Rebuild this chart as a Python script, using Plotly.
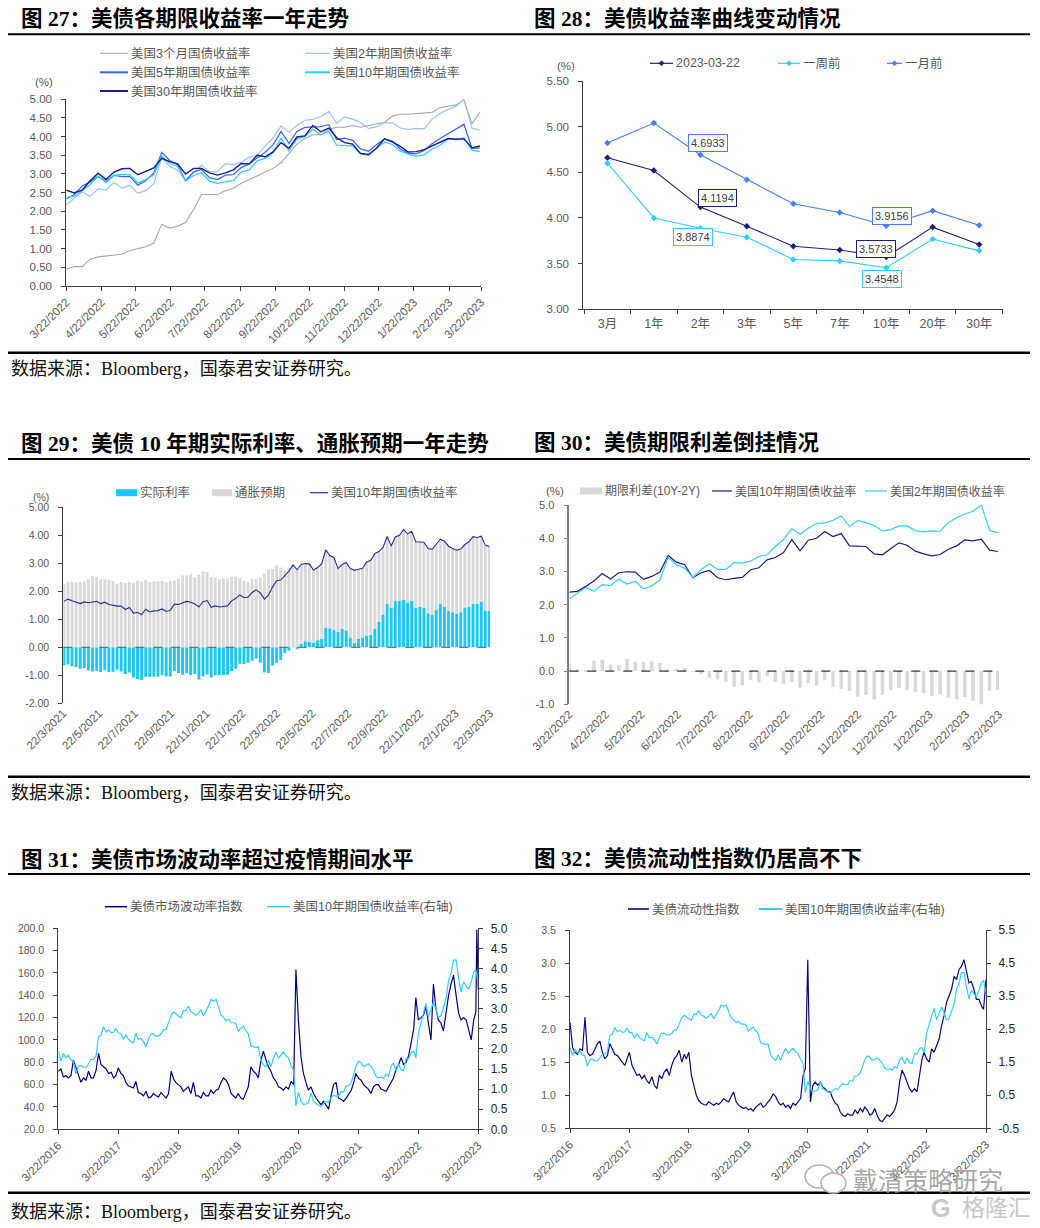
import pandas as pd
import plotly.graph_objects as go

W, H = 1040, 1228
def fx(x): return x / W
def fy(y): return 1 - y / H

SANS = "Liberation Sans, Arial, Noto Sans CJK SC, sans-serif"
SERIF = "Liberation Serif, Noto Sans CJK SC, serif"
GRAY_TXT = "#595959"
AXIS = "#404040"

# ---------------- data ----------------
# weekly observations 2022-03-22 .. 2023-03-21
WEEKS_22 = pd.date_range("2022-03-22", periods=53, freq="7D")
# weekly observations 2021-03-23 .. 2022-03-15
WEEKS_21 = pd.date_range("2021-03-23", periods=52, freq="7D")

THREE_M = [0.45,0.52,0.52,0.72,0.78,0.80,0.82,0.85,0.95,1.00,
           1.05,1.15,1.65,1.55,1.60,1.70,2.05,2.45,2.45,2.45,
           2.55,2.62,2.75,2.85,2.95,3.05,3.15,3.30,3.55,3.80,
           3.95,4.05,4.05,4.20,4.25,4.25,4.30,4.25,4.30,4.35,
           4.38,4.55,4.60,4.60,4.62,4.63,4.65,4.78,4.82,4.85,
           4.98,4.35,4.65]
TWO_Y = [2.17,2.35,2.52,2.40,2.60,2.57,2.77,2.62,2.70,2.48,
         2.56,2.74,3.43,3.20,3.10,2.82,3.05,3.23,3.06,3.06,
         3.27,3.25,3.31,3.45,3.50,3.75,3.96,4.29,4.12,4.30,
         4.44,4.46,4.54,4.67,4.36,4.53,4.47,4.38,4.22,4.26,
         4.37,4.37,4.23,4.19,4.22,4.21,4.47,4.62,4.73,4.81,
         5.01,4.23,4.17]
FIVE_Y = [2.33,2.45,2.68,2.79,2.94,2.80,2.96,2.93,2.93,2.70,
          2.82,3.03,3.58,3.36,3.25,2.82,3.05,3.12,2.90,2.85,
          2.97,2.98,3.17,3.27,3.43,3.58,3.78,4.14,3.82,4.14,
          4.25,4.26,4.27,4.32,3.92,3.96,3.90,3.67,3.61,3.78,
          3.94,3.88,3.67,3.55,3.54,3.63,3.81,3.95,4.07,4.19,
          4.33,3.69,3.70]
TEN_Y = [2.38,2.40,2.55,2.72,2.94,2.77,2.96,2.99,2.98,2.76,
         2.85,2.98,3.48,3.28,3.20,2.81,2.96,3.03,2.81,2.75,
         2.79,2.82,3.05,3.11,3.35,3.42,3.57,3.96,3.62,3.94,
         4.00,4.20,4.05,4.14,3.77,3.76,3.75,3.53,3.50,3.68,
         3.86,3.79,3.61,3.53,3.47,3.51,3.67,3.77,3.95,3.92,
         3.97,3.64,3.60]
THIRTY_Y = [2.57,2.49,2.57,2.82,3.02,2.85,3.05,3.14,3.15,2.98,
            3.07,3.16,3.42,3.33,3.27,3.00,3.15,3.15,3.03,2.97,
            3.03,3.11,3.28,3.27,3.50,3.46,3.59,3.84,3.69,3.99,
            4.02,4.30,4.13,4.23,3.97,3.84,3.80,3.55,3.52,3.69,
            3.94,3.86,3.74,3.59,3.60,3.65,3.75,3.85,3.95,3.93,
            3.94,3.70,3.75]
P27_TICKTEXT = ["3/22/2022","4/22/2022","5/22/2022","6/22/2022","7/22/2022",
                "8/22/2022","9/22/2022","10/22/2022","11/22/2022","12/22/2022",
                "1/22/2023","2/22/2023","3/22/2023"]

# yield curve
CURVE_TENORS = ["3月","1年","2年","3年","5年","7年","10年","20年","30年"]
CURVE_NOW = [4.66,4.52,4.1194,3.91,3.69,3.65,3.5733,3.90,3.71]
CURVE_1W = [4.60,4.00,3.8874,3.79,3.545,3.53,3.4548,3.77,3.64]
CURVE_1M = [4.82,5.04,4.6933,4.42,4.155,4.06,3.9156,4.08,3.92]

# 10y real rate / breakeven, weekly 2021-03-23 .. 2023-03-21
TEN_Y_21 = [1.64,1.72,1.66,1.62,1.56,1.62,1.59,1.62,1.64,1.56,
            1.61,1.53,1.50,1.47,1.47,1.35,1.42,1.22,1.24,1.17,
            1.36,1.26,1.30,1.31,1.37,1.28,1.32,1.54,1.53,1.58,
            1.64,1.61,1.55,1.44,1.63,1.67,1.43,1.48,1.44,1.46,
            1.48,1.66,1.74,1.87,1.78,1.79,1.96,2.05,1.94,1.72,
            1.86,2.15]
REAL_21 = [-0.64,-0.61,-0.68,-0.70,-0.77,-0.74,-0.83,-0.86,-0.85,-0.88,
           -0.82,-0.88,-0.87,-0.80,-0.86,-0.95,-0.90,-1.08,-1.14,-1.17,
           -1.05,-1.06,-1.05,-1.05,-1.00,-1.04,-1.04,-0.85,-0.92,-0.98,
           -0.93,-1.00,-0.95,-1.15,-1.03,-0.97,-1.08,-1.00,-1.00,-1.00,
           -0.98,-0.85,-0.77,-0.59,-0.60,-0.55,-0.48,-0.40,-0.55,-0.90,
           -0.92,-0.65]
REAL_22 = [-0.55,-0.45,-0.20,-0.12,0.01,-0.05,0.12,0.22,0.20,0.15,
           0.25,0.30,0.70,0.68,0.62,0.55,0.65,0.60,0.35,0.15,
           0.30,0.35,0.40,0.45,0.65,0.90,1.15,1.55,1.40,1.65,
           1.65,1.70,1.60,1.65,1.40,1.45,1.40,1.22,1.15,1.35,
           1.55,1.45,1.30,1.25,1.20,1.25,1.40,1.45,1.55,1.55,
           1.62,1.30,1.30]
BE_21 = [2.28,2.33,2.34,2.32,2.33,2.36,2.42,2.55,2.52,2.44,
         2.43,2.41,2.37,2.27,2.33,2.30,2.32,2.30,2.38,2.34,
         2.41,2.32,2.35,2.36,2.37,2.32,2.36,2.39,2.45,2.56,
         2.57,2.61,2.50,2.59,2.72,2.68,2.51,2.48,2.44,2.46,
         2.46,2.51,2.51,2.46,2.38,2.34,2.44,2.45,2.49,2.62,
         2.78,2.80]
BE_22 = [2.93,2.85,2.75,2.84,2.93,2.82,2.84,2.77,2.78,2.61,
         2.60,2.68,2.78,2.60,2.58,2.26,2.31,2.43,2.46,2.60,
         2.49,2.47,2.65,2.66,2.70,2.52,2.42,2.41,2.22,2.29,
         2.35,2.50,2.45,2.49,2.37,2.31,2.35,2.31,2.35,2.33,
         2.31,2.34,2.31,2.28,2.27,2.26,2.27,2.32,2.40,2.37,
         2.35,2.34,2.30]
P29_TICKTEXT = ["22/3/2021","22/5/2021","22/7/2021","22/9/2021","22/11/2021",
                "22/1/2022","22/3/2022","22/5/2022","22/7/2022","22/9/2022",
                "22/11/2022","22/1/2023","22/3/2023"]
P29_YTICKS = [-2, -1, 0, 1, 2, 3, 4, 5]
P29_YTEXT = ["-2.00","-1.00","0.00","1.00","2.00","3.00","4.00","5.00"]

# 10Y-2Y spread, weekly 2022-03-22 .. 2023-03-21
SPREAD = [0.21,0.05,0.03,0.32,0.34,0.20,0.19,0.37,0.28,0.28,
          0.29,0.24,0.05,0.08,0.10,-0.01,-0.09,-0.20,-0.25,-0.31,
          -0.48,-0.43,-0.26,-0.34,-0.15,-0.33,-0.39,-0.33,-0.50,-0.36,
          -0.44,-0.26,-0.49,-0.53,-0.59,-0.77,-0.72,-0.85,-0.72,-0.58,
          -0.51,-0.58,-0.62,-0.66,-0.75,-0.70,-0.80,-0.85,-0.78,-0.89,
          -1.04,-0.59,-0.57]
P30_YTICKS = [-1, 0, 1, 2, 3, 4, 5]
P30_YTEXT = ["-1.0","0.0","1.0","2.0","3.0","4.0","5.0"]

# long history, observations on the 7th and 22nd of each month, 2016-03-22 .. 2023-03-22
SEMI_DATES = [pd.Timestamp(y, m, d) for y in range(2016, 2024) for m in range(1, 13)
              for d in (7, 22)
              if pd.Timestamp(2016, 3, 22) <= pd.Timestamp(y, m, d) <= pd.Timestamp(2023, 3, 22)]
TEN_Y_LONG = [1.94,1.70,1.89,1.78,1.84,1.72,1.69,1.38,1.57,1.59,1.55,1.54,1.63,1.74,1.74,1.83,2.31,2.34,2.55,
              2.42,2.47,2.40,2.42,2.52,2.40,2.38,2.24,2.35,2.25,2.18,2.15,2.39,2.24,2.26,2.18,2.05,2.25,2.37,2.38,2.31,2.33,2.37,2.48,
              2.48,2.66,2.84,2.92,2.88,2.83,2.77,2.96,2.95,3.06,2.93,2.89,2.83,2.89,2.97,2.82,2.94,3.07,3.23,3.19,3.23,3.06,2.85,2.79,
              2.70,2.74,2.65,2.65,2.64,2.44,2.50,2.57,2.45,2.38,2.08,2.05,2.04,2.05,1.71,1.61,1.55,1.72,1.56,1.77,1.92,1.77,1.84,1.92,
              1.82,1.77,1.58,1.47,0.58,0.92,0.70,0.62,0.63,0.66,0.90,0.70,0.65,0.60,0.56,0.64,0.70,0.67,0.78,0.85,0.82,0.83,0.94,0.92,
              1.08,1.09,1.17,1.37,1.57,1.69,1.66,1.56,1.58,1.63,1.57,1.47,1.32,1.28,1.30,1.26,1.37,1.32,1.57,1.65,1.45,1.63,1.48,1.46,
              1.76,1.75,1.92,1.94,1.78,2.38,2.66,2.90,3.13,2.79,2.98,3.16,3.00,2.78,2.83,3.03,3.26,3.70,3.88,4.21,4.21,3.76,3.42,3.67,
              3.56,3.48,3.67,3.92,3.97,3.60]
MOVE = [72,74,67,68,66,68,82,75,68,62,66,64,72,66,66,73,88,78,76,
        74,70,71,66,68,75,70,68,62,59,58,57,63,53,52,50,54,48,49,52,50,49,53,51,
        48,52,72,65,62,60,58,54,56,58,52,62,50,50,48,53,50,50,55,52,55,56,62,66,
        64,60,52,50,48,52,48,47,52,58,76,72,70,66,82,90,82,76,72,66,63,58,57,55,
        58,56,63,60,163,118,85,70,62,55,58,52,48,45,42,45,41,38,50,60,62,48,47,45,
        48,52,55,62,70,66,64,60,58,56,52,58,60,60,56,55,54,58,62,66,74,78,84,78,
        80,86,98,110,138,118,120,122,130,115,100,150,128,118,115,108,126,140,150,158,140,124,118,120,
        118,108,100,118,125,145]
MOVE_EXTRA_DATES = ["2023-03-13"]
MOVE_EXTRA = [199]
LIQ = [2.10,1.72,1.65,1.62,1.70,1.68,2.18,1.65,1.60,1.62,1.70,1.78,1.82,1.65,1.55,1.60,1.78,1.70,1.62,
       1.60,1.55,1.50,1.45,1.55,1.65,1.45,1.38,1.30,1.32,1.25,1.30,1.22,1.18,1.28,1.15,1.10,1.30,1.25,1.35,1.40,1.30,1.45,1.55,
       1.60,1.68,1.50,1.62,1.55,1.65,1.30,1.15,1.00,0.92,0.88,0.86,0.85,0.90,0.88,0.85,0.88,0.86,0.90,0.95,0.92,0.90,0.98,1.05,
       0.90,0.85,0.82,0.80,0.82,0.78,0.80,0.76,0.82,0.85,0.88,0.82,0.85,0.90,0.95,1.02,0.98,0.90,0.85,0.88,0.82,0.85,0.80,0.88,
       0.85,0.90,0.95,1.30,1.40,3.05,0.90,1.15,1.20,1.15,1.20,1.12,1.10,1.05,1.05,0.95,0.88,0.85,0.75,0.70,0.68,0.72,0.70,0.70,
       0.78,0.72,0.80,0.75,0.82,0.78,0.70,0.72,0.80,0.70,0.62,0.60,0.65,0.70,0.68,0.72,0.78,0.90,1.20,1.38,1.30,1.20,1.10,1.05,
       1.10,1.05,1.35,1.55,1.65,1.55,1.50,1.70,1.65,1.75,1.85,2.05,2.20,2.40,2.50,2.60,2.80,2.75,2.90,2.95,3.05,2.85,2.70,2.72,
       2.60,2.45,2.45,2.35,2.30,2.75]
P31_TICKTEXT = ["3/22/2016","3/22/2017","3/22/2018","3/22/2019","3/22/2020",
                "3/22/2021","3/22/2022","3/22/2023"]
P32_RTICKS = [-0.5, 0.5, 1.5, 2.5, 3.5, 4.5, 5.5]
P32_RTEXT = ["-0.5","0.5","1.5","2.5","3.5","4.5","5.5"]

# ---------------- colours ----------------
C_3M, C_2Y, C_5Y, C_10Y, C_30Y = "#a6a6a6", "#99c2ff", "#4166f0", "#33ccff", "#1a1a8c"
C_NAVY = "#1c1c86"
C_CYAN = "#33ccff"
C_REAL = "#1ec6f6"
C_GRAYBAR = "#d9d9d9"
C_NOW, C_1W, C_1M = "#1f1f7a", "#33ccff", "#4a7cf7"


def iso(labels, fmt):
    return [d.strftime("%Y-%m-%d") for d in pd.to_datetime(labels, format=fmt)]

fig = go.Figure()

# ---- Fig 27 ----
for nm, vals, col, w in [("美国3个月国债收益率", THREE_M, C_3M, 1.1),
                         ("美国2年期国债收益率", TWO_Y, C_2Y, 1.2),
                         ("美国5年期国债收益率", FIVE_Y, C_5Y, 1.3),
                         ("美国10年期国债收益率", TEN_Y, C_10Y, 1.3),
                         ("美国30年期国债收益率", THIRTY_Y, C_30Y, 1.4)]:
    fig.add_trace(go.Scatter(x=WEEKS_22, y=vals, mode="lines", name=nm,
                             line=dict(color=col, width=w), xaxis="x", yaxis="y"))

# ---- Fig 28 ----
for nm, vals, col in [("2023-03-22", CURVE_NOW, C_NOW), ("一周前", CURVE_1W, C_1W),
                      ("一月前", CURVE_1M, C_1M)]:
    fig.add_trace(go.Scatter(x=CURVE_TENORS, y=vals, mode="lines+markers", name=nm,
                             line=dict(color=col, width=1.1),
                             marker=dict(symbol="diamond", size=5, color=col),
                             xaxis="x2", yaxis="y2"))

# ---- Fig 29 ----
P29_DATES = WEEKS_21.append(WEEKS_22)
fig.add_trace(go.Bar(x=P29_DATES, y=REAL_21 + REAL_22, name="实际利率",
                     marker=dict(color=C_REAL, line=dict(width=0)),
                     width=5 * 86400000, xaxis="x3", yaxis="y3"))
fig.add_trace(go.Bar(x=P29_DATES, y=BE_21 + BE_22, name="通胀预期",
                     marker=dict(color=C_GRAYBAR, line=dict(width=0)),
                     width=5 * 86400000, xaxis="x3", yaxis="y3"))
fig.add_trace(go.Scatter(x=P29_DATES, y=TEN_Y_21 + TEN_Y, mode="lines", name="美国10年期国债收益率",
                         line=dict(color="#2b2b9b", width=1.1), xaxis="x3", yaxis="y3"))

# ---- Fig 30 ----
fig.add_trace(go.Bar(x=WEEKS_22, y=SPREAD, name="期限利差(10Y-2Y)",
                     marker=dict(color=C_GRAYBAR, line=dict(width=0)),
                     width=3 * 86400000, xaxis="x4", yaxis="y4"))
fig.add_trace(go.Scatter(x=WEEKS_22, y=TEN_Y, mode="lines", name="美国10年期国债收益率",
                         line=dict(color=C_NAVY, width=1.2), xaxis="x4", yaxis="y4"))
fig.add_trace(go.Scatter(x=WEEKS_22, y=TWO_Y, mode="lines", name="美国2年期国债收益率",
                         line=dict(color=C_CYAN, width=1.2), xaxis="x4", yaxis="y4"))

# ---- Fig 31 ----
move_df = pd.DataFrame({"d": list(SEMI_DATES) + list(pd.to_datetime(MOVE_EXTRA_DATES)),
                        "v": MOVE + MOVE_EXTRA}).sort_values("d")
fig.add_trace(go.Scatter(x=move_df["d"], y=move_df["v"], mode="lines", name="美债市场波动率指数",
                         line=dict(color="#000080", width=1.2), xaxis="x5", yaxis="y5"))
fig.add_trace(go.Scatter(x=SEMI_DATES, y=TEN_Y_LONG, mode="lines", name="美国10年期国债收益率(右轴)",
                         line=dict(color=C_CYAN, width=1.2), xaxis="x5", yaxis="y7"))

# ---- Fig 32 ----
fig.add_trace(go.Scatter(x=SEMI_DATES, y=LIQ, mode="lines", name="美债流动性指数",
                         line=dict(color="#0a0a80", width=1.2), xaxis="x6", yaxis="y6"))
fig.add_trace(go.Scatter(x=SEMI_DATES, y=TEN_Y_LONG, mode="lines", name="美国10年期国债收益率(右轴)",
                         line=dict(color=C_CYAN, width=1.2), xaxis="x6", yaxis="y8"))


# ---------------- axes ----------------
def xdate(x0, x1, anchor, rng, ticktext, fmt, showline=True, ticks="outside"):
    return dict(domain=[fx(x0), fx(x1)], anchor=anchor, type="date", range=rng,
                tickmode="array", tickvals=iso(ticktext, fmt), ticktext=ticktext,
                tickangle=-45, showline=showline, linecolor=AXIS, linewidth=1,
                ticks=ticks, ticklen=4, tickcolor=AXIS, showgrid=False, zeroline=False,
                automargin=False,
                tickfont=dict(family=SANS, size=11.5, color=GRAY_TXT))


def yax(y_top, y_bot, anchor, rng, dtick=None, fmt=None, size=11, color=GRAY_TXT,
        side="left", overlaying=None, linecolor=AXIS, linewidth=1, standoff=7,
        tickvals=None, ticktext=None):
    d = dict(anchor=anchor, range=rng, side=side, showline=True, linecolor=linecolor,
             linewidth=linewidth, ticks="outside", ticklen=4, tickcolor=linecolor,
             showgrid=False, zeroline=False, ticklabelstandoff=standoff, automargin=False,
             tickfont=dict(family=SANS, size=size, color=color))
    if tickvals is not None:
        d.update(tickmode="array", tickvals=tickvals, ticktext=ticktext)
    else:
        d.update(tick0=rng[0], dtick=dtick, tickformat=fmt)
    if overlaying:
        d["overlaying"] = overlaying
    else:
        d["domain"] = [fy(y_bot), fy(y_top)]
    return d


layout = dict(
    width=W, height=H, margin=dict(l=0, r=0, t=0, b=0, autoexpand=False),
    paper_bgcolor="white", plot_bgcolor="white", showlegend=False,
    barmode="relative", font=dict(family=SANS),
    xaxis=xdate(66.3, 481, "y", ["2022-03-22", "2023-03-22"], P27_TICKTEXT, "%m/%d/%Y"),
    yaxis=yax(99.3, 286, "x", [0, 5], 0.5, ".2f", size=11.5),
    xaxis2=dict(domain=[fx(583.3), fx(1003.3)], anchor="y2", type="category",
                categoryorder="array", categoryarray=CURVE_TENORS, tickson="boundaries",
                showline=True, linecolor=AXIS, ticks="outside", ticklen=4, tickcolor=AXIS,
                showgrid=False, zeroline=False, ticklabelstandoff=3, automargin=False,
                tickfont=dict(family=SANS, size=12.5, color=GRAY_TXT)),
    yaxis2=yax(81, 309.3, "x2", [3, 5.5], 0.5, ".2f", size=11.5),
    xaxis3=xdate(63.3, 490, "y3", ["2021-03-22", "2023-03-22"], P29_TICKTEXT, "%d/%m/%Y",
                 showline=False, ticks=""),
    yaxis3=yax(507.3, 703.3, "x3", [-2, 5], size=10.5, tickvals=P29_YTICKS, ticktext=P29_YTEXT),
    xaxis4=xdate(569.3, 999, "y4", ["2022-03-22", "2023-03-22"], P27_TICKTEXT, "%m/%d/%Y",
                 showline=False, ticks=""),
    yaxis4=yax(505, 704.3, "x4", [-1, 5], size=11, linecolor="#808080", linewidth=1.5,
               tickvals=P30_YTICKS, ticktext=P30_YTEXT),
    xaxis5=xdate(58.3, 478.3, "y5", ["2016-03-22", "2023-03-22"], P31_TICKTEXT, "%m/%d/%Y"),
    yaxis5=yax(928.3, 1129.3, "x5", [20, 200], 20, ".1f", size=10.5),
    yaxis7=yax(None, None, "x5", [0, 5], 0.5, ".1f", size=12, color="#262626", side="right",
               overlaying="y5", standoff=5),
    xaxis6=xdate(570, 986, "y6", ["2016-03-22", "2023-03-22"], P31_TICKTEXT, "%m/%d/%Y"),
    yaxis6=yax(930, 1128.3, "x6", [0.5, 3.5], 0.5, ".1f", size=10.5),
    yaxis8=yax(None, None, "x6", [-0.5, 5.5], size=12, color="#262626", side="right",
               overlaying="y6", standoff=5, tickvals=P32_RTICKS, ticktext=P32_RTEXT),
)

# ---------------- shapes & annotations ----------------
shapes, ann = [], []

def hline(x0, x1, y, color="black", width=2, dash="solid"):
    shapes.append(dict(type="line", xref="paper", yref="paper", x0=fx(x0), x1=fx(x1),
                       y0=fy(y), y1=fy(y), line=dict(color=color, width=width, dash=dash)))

def rect(x0, x1, yc, color, h=7):
    shapes.append(dict(type="rect", xref="paper", yref="paper", x0=fx(x0), x1=fx(x1),
                       y0=fy(yc + h / 2), y1=fy(yc - h / 2), fillcolor=color,
                       line=dict(width=0)))

def diamond(xc, yc, color, r=2.6):
    p = f"M {fx(xc - r)},{fy(yc)} L {fx(xc)},{fy(yc - r)} L {fx(xc + r)},{fy(yc)} L {fx(xc)},{fy(yc + r)} Z"
    shapes.append(dict(type="path", xref="paper", yref="paper", path=p, fillcolor=color,
                       line=dict(color=color, width=0.5)))

def text(x, y, s, size=12, color=GRAY_TXT, family=SANS, anchor="left"):
    ann.append(dict(x=fx(x), y=fy(y), xref="paper", yref="paper", text=s, showarrow=False,
                    xanchor=anchor, yanchor="middle",
                    font=dict(size=size, color=color, family=family)))

# title rules and bottom rules
for y in (34.3, 459, 874):
    hline(8, 1030, y, width=2)
for y in (352.7, 776.7, 1192.7):
    hline(8, 1030, y, width=2.5)

# titles
TITLE_C = "#000000"
text(19, 19, "<b>图 27：美债各期限收益率一年走势</b>", 21.5, TITLE_C, SERIF)
text(532, 19, "<b>图 28：美债收益率曲线变动情况</b>", 21.5, TITLE_C, SERIF)
text(19, 443, "<b>图 29：美债 10 年期实际利率、通胀预期一年走势</b>", 21.5, TITLE_C, SERIF)
text(532, 443, "<b>图 30：美债期限利差倒挂情况</b>", 21.5, TITLE_C, SERIF)
text(19, 859, "<b>图 31：美债市场波动率超过疫情期间水平</b>", 21.5, TITLE_C, SERIF)
text(532, 858.5, "<b>图 32：美债流动性指数仍居高不下</b>", 21.5, TITLE_C, SERIF)

SRC = "数据来源：Bloomberg，国泰君安证券研究。"
for y in (369, 792.5, 1212):
    text(9, y, SRC, 18, "#111111", SERIF)

# unit labels
text(44, 82, "(%)", 11.5, GRAY_TXT, SANS, "center")
text(566, 66, "(%)", 11.5, GRAY_TXT, SANS, "center")
text(41, 497, "(%)", 10.5, GRAY_TXT, SANS, "center")
text(555, 491, "(%)", 11.5, GRAY_TXT, SANS, "center")

# legend 27
for (x0, x1, y, col, w, s) in [(100, 128, 53.3, C_3M, 1.1, "美国3个月国债收益率"),
                               (305, 330, 53.3, C_2Y, 1.2, "美国2年期国债收益率"),
                               (100, 128, 72.3, C_5Y, 2.0, "美国5年期国债收益率"),
                               (305, 330, 72.3, C_10Y, 2.0, "美国10年期国债收益率"),
                               (100, 128, 91, C_30Y, 2.0, "美国30年期国债收益率")]:
    hline(x0, x1, y, col, w)
    text(x1 + 1, y, s, 12.5)

# legend 28
for (x0, x1, col, s) in [(650, 673, C_NOW, "2023-03-22"), (778, 800, C_1W, "一周前"),
                         (887, 902, C_1M, "一月前")]:
    hline(x0, x1, 63.3, col, 1.2)
    diamond((x0 + x1) / 2, 63.3, col)
    text(x1 + 1, 63.3, s, 12.5)

# legend 29
rect(116, 137, 492.7, C_REAL)
text(138, 492.7, "实际利率", 12.5)
rect(212, 232, 492.7, C_GRAYBAR)
text(233, 492.7, "通胀预期", 12.5)
hline(310, 328, 492.7, "#2b2b9b", 1.2)
text(329, 492.7, "美国10年期国债收益率", 12.5)

# legend 30
rect(580, 602, 491, C_GRAYBAR)
text(603, 491, "期限利差(10Y-2Y)", 12)
hline(712, 732, 491, C_NAVY, 1.2)
text(733, 491, "美国10年期国债收益率", 12)
hline(865, 887, 491, C_CYAN, 1.2)
text(888, 491, "美国2年期国债收益率", 12)

# legend 31
hline(105, 127, 906.7, "#000080", 1.5)
text(128, 906.7, "美债市场波动率指数", 12.5)
hline(267, 290, 906.7, C_CYAN, 1.5)
text(291, 906.7, "美国10年期国债收益率(右轴)", 12.5)

# legend 32
hline(628, 649, 909, "#3a3a90", 2.0)
text(650, 909, "美债流动性指数", 12.5)
hline(759, 782, 909, C_CYAN, 2.0)
text(783, 909, "美国10年期国债收益率(右轴)", 12.5)

# zero lines
shapes.append(dict(type="line", xref="x3 domain", yref="y3", x0=0, x1=1, y0=0, y1=0,
                   line=dict(color="#595959", width=1, dash="dash")))
shapes.append(dict(type="line", xref="x4 domain", yref="y4", x0=0, x1=1, y0=0, y1=0,
                   line=dict(color="#000000", width=1, dash="dash")))

# boxed data labels on fig 28
for (cat, val, col, dx, dy) in [("2年", CURVE_1M[2], C_1M, 8, 12),
                                ("2年", CURVE_NOW[2], C_NOW, 17, 9),
                                ("2年", CURVE_1W[2], C_1W, -7, -9),
                                ("10年", CURVE_1M[6], C_1M, 6, 10),
                                ("10年", CURVE_NOW[6], C_NOW, -10, 8),
                                ("10年", CURVE_1W[6], C_1W, -4, -11)]:
    ann.append(dict(x=cat, y=val, xref="x2", yref="y2", text=f"{val:.4f}", showarrow=False,
                    xshift=dx, yshift=dy, bgcolor="white", bordercolor=col, borderwidth=1,
                    borderpad=2, font=dict(family=SANS, size=11, color="#404040")))

# watermark
shapes.append(dict(type="circle", xref="paper", yref="paper", x0=fx(805), x1=fx(834),
                   y0=fy(1188), y1=fy(1165), line=dict(color="#b0b0b0", width=1.5)))
shapes.append(dict(type="circle", xref="paper", yref="paper", x0=fx(821), x1=fx(846),
                   y0=fy(1193), y1=fy(1173), fillcolor="white", line=dict(color="#b0b0b0", width=1.5)))
text(851, 1181, "戴清策略研究", 25, "#a8a8a8", SANS)
text(929, 1208, "<b>G</b>", 25, "#c8c8c8", SANS)
text(960, 1208, "格隆汇", 23, "#c8c8c8", SANS)

layout["shapes"] = shapes
layout["annotations"] = ann
fig.update_layout(**layout)

fig.write_html("out.html", config={"displayModeBar": False},
               post_script="document.body.style.margin='0px';")
